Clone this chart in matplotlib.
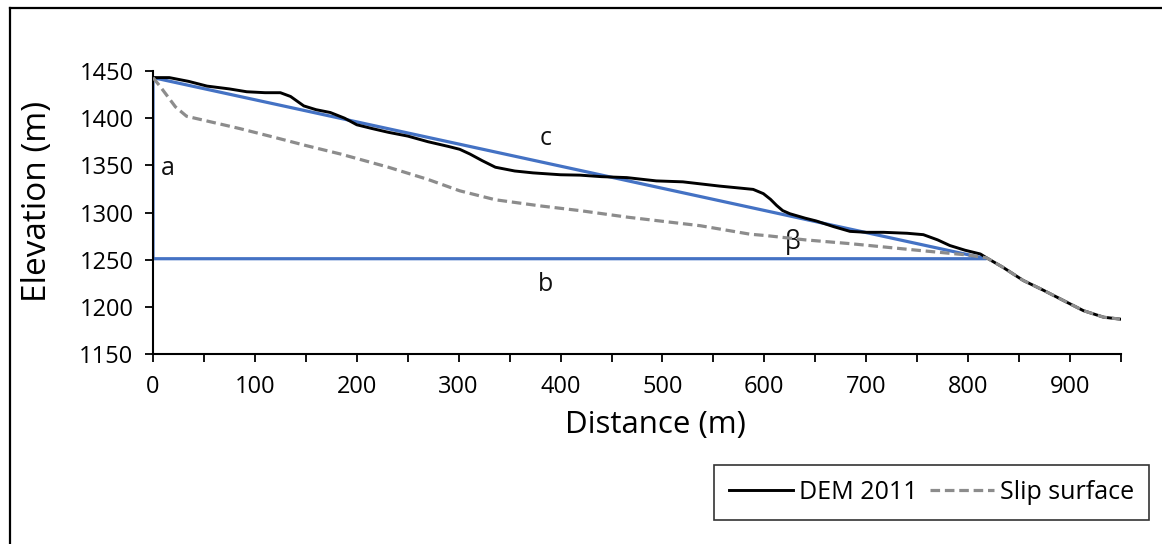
import matplotlib
matplotlib.use("Agg")
import matplotlib.pyplot as plt
from matplotlib.lines import Line2D

# ---- data ----
dem_x = [0, 16, 35, 53, 75, 92, 110, 125, 135, 148, 160, 174, 188, 200, 215, 231, 250, 270, 290, 301,
         311, 323, 336, 355, 373, 400, 419, 440, 465, 494, 520, 540, 556, 575, 589, 599, 606, 612,
         618, 625, 640, 651, 668, 684, 700, 717, 740, 756, 770, 782, 797, 812, 818, 834, 854, 874,
         893, 913, 933, 949]
dem_y = [1443, 1443, 1439, 1434, 1431, 1428, 1427, 1427, 1423, 1413, 1409, 1406, 1400, 1393, 1389, 1385,
         1381, 1375, 1370, 1367, 1362, 1355, 1348, 1344, 1342, 1340, 1339.6, 1338, 1337, 1333.5, 1332.5,
         1330, 1328, 1326, 1324.5, 1320, 1314, 1307.5, 1302, 1298.7, 1294, 1291, 1285, 1280, 1279,
         1279, 1278, 1276.5, 1271, 1265, 1260, 1256, 1252, 1242, 1228, 1217.5, 1207, 1196, 1189, 1187]

slip_x = [0, 6, 13, 22, 33, 53, 85, 118, 150, 184, 231, 270, 301, 336, 380, 419, 466, 537, 586, 602,
          640, 684, 750, 799, 818, 834, 854, 874, 893, 913, 933, 949]
slip_y = [1443, 1435, 1425, 1412, 1402, 1397, 1389, 1380, 1371, 1362, 1348, 1335, 1323, 1313.5, 1307, 1302,
          1295, 1286, 1277, 1275.5, 1271, 1267, 1260, 1255, 1252, 1242, 1228, 1217.5, 1207, 1196, 1189, 1187]

tri_x = [0, 0, 818, 0]
tri_y = [1443, 1251, 1251, 1443]

labels = ["a", "b", "c", "β"]
label_x = [15, 385, 385, 628]
label_y = [1347, 1224, 1378, 1269]

xticks_major = list(range(0, 1000, 100))
xticks_minor = list(range(0, 951, 50))
yticks = list(range(1150, 1451, 50))

# ---- figure ----
plt.rcParams['font.family'] = ['Open Sans', 'DejaVu Sans']
fig = plt.figure(figsize=(11.62, 5.44), dpi=100)
W, H = 1162, 544
ax = fig.add_axes([153/W, 1 - 354/H, (1121-153)/W, (354-71)/H])

blue = "#4472C4"
ax.plot(tri_x, tri_y, color=blue, lw=2.3, solid_joinstyle='miter', zorder=2)
l1, = ax.plot(dem_x, dem_y, color="black", lw=2.1, label="DEM 2011", zorder=3)
l2, = ax.plot(slip_x, slip_y, color="#8c8c8c", lw=2.3, ls=(0, (3.0, 1.5)), label="Slip surface", zorder=4)

for t, x, y in zip(labels, label_x, label_y):
    ax.text(x, y, t, fontsize=18, ha="center", va="center", color="#111111")

ax.set_xlim(0, 950)
ax.set_ylim(1150, 1450)
ax.set_xticks(xticks_major)
ax.set_xticks(xticks_minor, minor=True)
ax.set_yticks(yticks)
ax.tick_params(axis="both", which="major", labelsize=17, length=6, width=1.3, direction="out", colors="black")
ax.tick_params(axis="x", which="minor", length=6, width=1.3, direction="out")
ax.tick_params(axis="y", pad=8)
ax.tick_params(axis="x", pad=9)
for s in ["top", "right"]:
    ax.spines[s].set_visible(False)
for s in ["left", "bottom"]:
    ax.spines[s].set_linewidth(1.5)

xl = fig.text(655.5/W, 1 - 425/H, "Distance (m)", fontsize=22.5, ha="center", va="center")
yl = fig.text(38/W, 1 - 201/H, "Elevation (m)", fontsize=24, ha="center", va="center", rotation=90)

leg = fig.legend(handles=[l1, l2], loc="center", bbox_to_anchor=(931.5/W, 1 - 492.5/H),
                 ncol=2, frameon=True, fancybox=False, edgecolor="black", fontsize=18,
                 handlelength=2.55, handletextpad=0.25, columnspacing=0.5, borderpad=0.6,
                 borderaxespad=0)
leg.get_frame().set_linewidth(1.2)

# outer frame (left and top edges)
fig.add_artist(Line2D([10/W, 10/W], [0, 1 - 8/H], transform=fig.transFigure, color="black", lw=1.6))
fig.add_artist(Line2D([10/W, 1], [1 - 8/H, 1 - 8/H], transform=fig.transFigure, color="black", lw=1.6))

fig.savefig("out.png", dpi=100)
